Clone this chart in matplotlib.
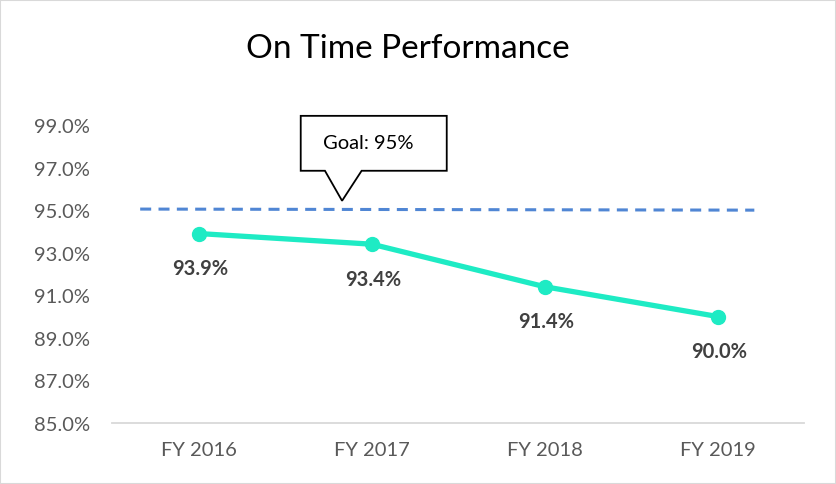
import matplotlib
matplotlib.use("Agg")
import matplotlib.pyplot as plt
from matplotlib.patches import Polygon, Rectangle
from matplotlib.ticker import FuncFormatter

categories = ["FY 2016", "FY 2017", "FY 2018", "FY 2019"]
values = [93.9, 93.4, 91.4, 90.0]
labels = ["93.9%", "93.4%", "91.4%", "90.0%"]
goal = 95.0
goal_text = "Goal: 95%"
yticks = [85, 87, 89, 91, 93, 95, 97, 99]

W, H = 837, 485
fig = plt.figure(figsize=(W / 100, H / 100), dpi=100)
FONT = "Lato"
plt.rcParams["font.family"] = [FONT, "DejaVu Sans"]

ax = fig.add_axes([112.5 / W, 61 / H, (804.5 - 112.5) / W, (359 - 61) / H])
x = list(range(len(categories)))
ax.set_xlim(-0.5, len(categories) - 0.5)
ax.set_ylim(85, 99)

# goal line
ax.plot([-0.34, 3.21], [goal + 0.05, goal], color="#5086d4", lw=2.2,
        dashes=(3.6, 2.4), zorder=2, clip_on=False)

# data line
ax.plot(x, values, color="#1eebc4", lw=3.8, marker="o", markersize=10,
        zorder=3, clip_on=False)
for xi, v, lab in zip(x, values, labels):
    ax.annotate(lab, (xi, v), xytext=(0.5, -25), textcoords="offset points",
                ha="center", va="center", fontsize=14.5, fontweight="bold",
                color="#404040")

# callout
bx0, bx1 = 0.588, 1.432
by0, by1 = 96.85, 99.43
px0, px1, ptip = 0.728, 0.94, 0.827
verts = [(bx0, by1), (bx1, by1), (bx1, by0), (px1, by0), (ptip, goal + 0.44),
         (px0, by0), (bx0, by0)]
ax.add_patch(Polygon(verts, closed=True, facecolor="white", edgecolor="black",
                     lw=1.3, zorder=5, clip_on=False))
ax.text((bx0 + bx1) / 2 - 0.03, (by0 + by1) / 2 + 0.05, goal_text, ha="center",
        va="center", fontsize=14.5, color="black", zorder=6)

ax.set_xticks(x)
ax.set_xticklabels(categories)
ax.set_yticks(yticks)
ax.yaxis.set_major_formatter(FuncFormatter(lambda v, p: f"{v:.1f}%"))
ax.tick_params(axis="both", length=0, labelsize=14.5, colors="#595959")
ax.tick_params(axis="x", pad=13)
ax.tick_params(axis="y", pad=16)
for s in ["top", "right", "left"]:
    ax.spines[s].set_visible(False)
ax.spines["bottom"].set_color("#d9d9d9")
ax.spines["bottom"].set_linewidth(1.3)

fig.text(408 / W, 1 - 49 / H, "On Time Performance", ha="center",
         va="center", fontsize=24, color="black")

fig.add_artist(Rectangle((0.5 / W, 0.5 / H), 1 - 1.5 / W, 1 - 1.5 / H,
                         transform=fig.transFigure, fill=False,
                         edgecolor="#d9d9d9", lw=1.5))

fig.savefig("out.png", dpi=100)
